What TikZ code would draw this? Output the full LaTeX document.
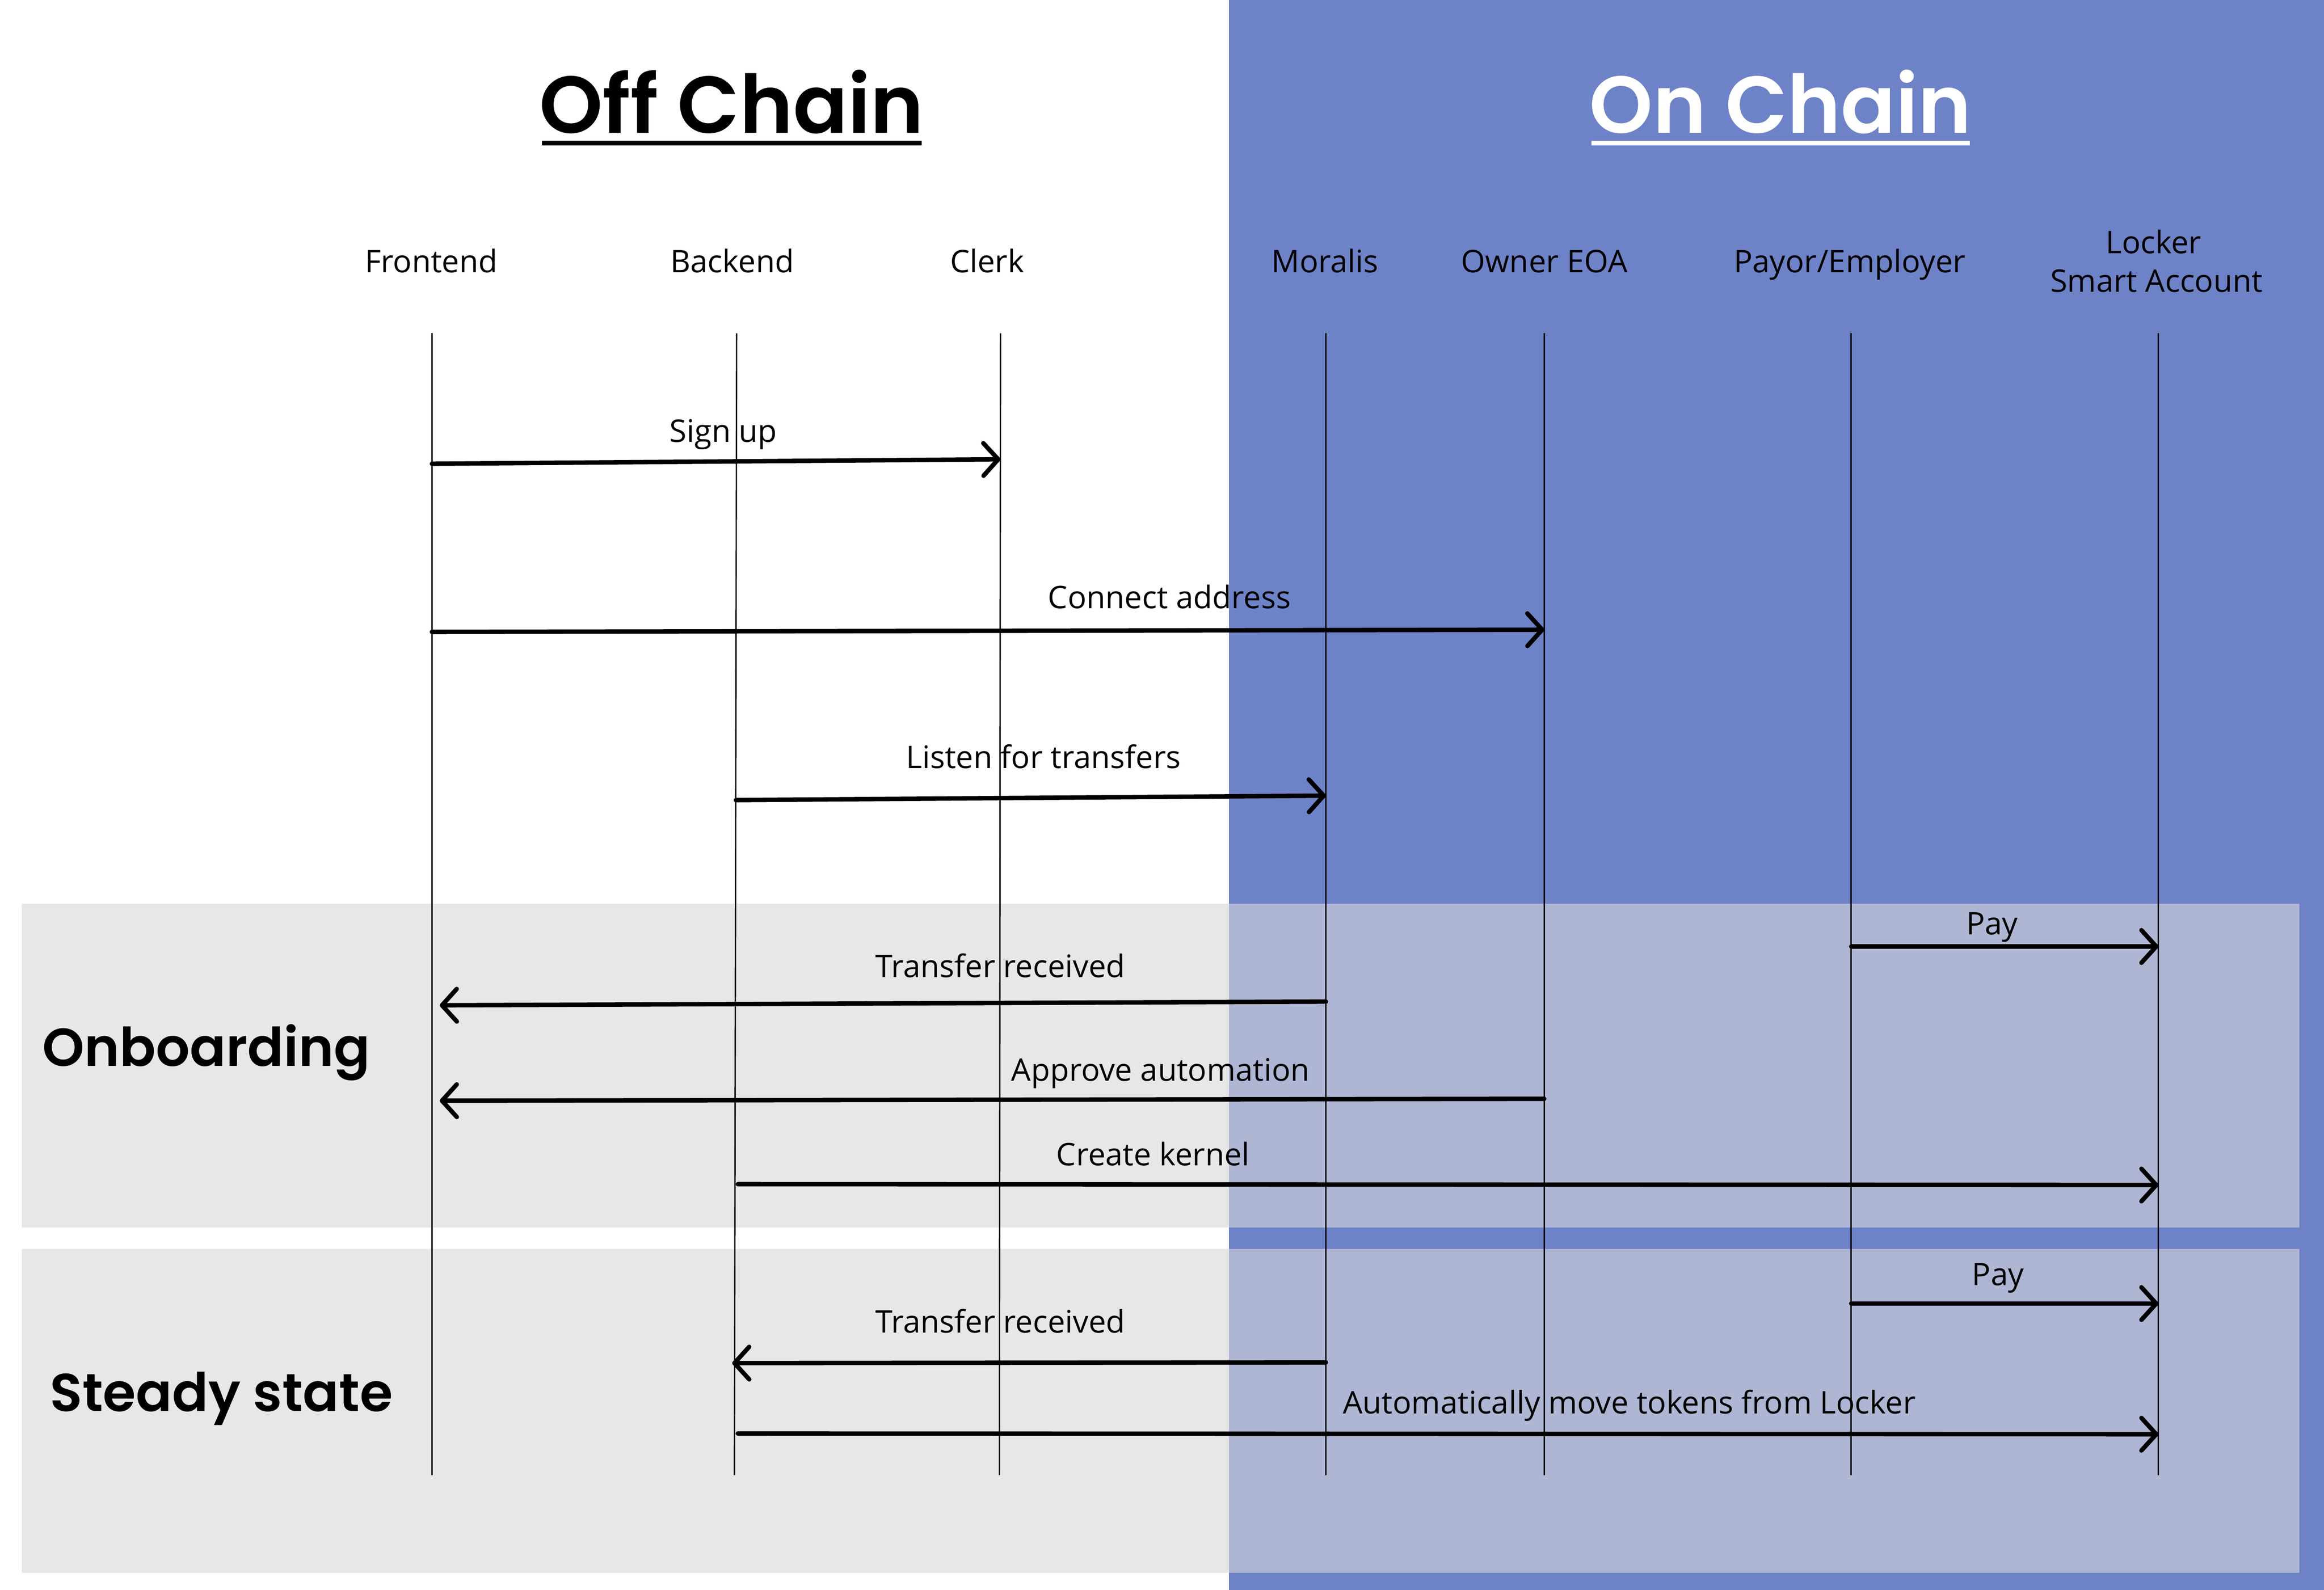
\documentclass[tikz,border=0pt]{standalone}
\usepackage{fontspec}
\setmainfont{Open Sans}
\newfontfamily\popsemi{Poppins SemiBold}
\usetikzlibrary{arrows.meta}
\definecolor{chainblue}{RGB}{110,130,200}
\definecolor{panelgray}{RGB}{231,231,231}
\definecolor{panelblue}{RGB}{175,182,211}
\begin{document}
\begin{tikzpicture}[x=1pt,y=-1pt,
  lifeline/.style={line width=0.9pt},
  msg/.style={line width=3pt,line cap=round,-{Straight Barb[length=10pt,width=22pt,line cap=round,line join=round]}},
  lbl/.style={font=\fontsize{21}{25}\selectfont,inner sep=0pt,anchor=base},
  heading/.style={font=\popsemi\fontsize{54.5}{62}\selectfont,inner sep=0pt,anchor=base},
  phase/.style={font=\popsemi\fontsize{36}{42}\selectfont,inner sep=0pt,anchor=base west},
  uline/.style={line width=3pt}]
\useasboundingbox (0,0) rectangle (1568,1073);
% backgrounds
\fill[white] (0,0) rectangle (1568,1073);
\fill[chainblue] (829,0) rectangle (1568,1073);
\fill[panelgray] (14.7,610) rectangle (829,828.6);
\fill[panelblue] (829,610) rectangle (1551.5,828.6);
\fill[panelgray] (14.7,842.8) rectangle (829,1061.4);
\fill[panelblue] (829,842.8) rectangle (1551.5,1061.4);
% headings
\node[heading] (offchain) at (493.5,90) {Off Chain};
\draw[uline] (365.6,96.6) -- (622,96.6);
\node[heading,text=white] (onchain) at (1201.3,90) {On Chain};
\draw[uline,white] (1073.7,96.6) -- (1329,96.6);
\node[phase] (onboarding) at (28.4,719.5) {Onboarding};
\node[phase] (steady) at (33.4,952.4) {Steady state};
% participants
\node[lbl] (pf) at (291,184) {Frontend};
\node[lbl] (pb) at (494,184) {Backend};
\node[lbl] (pc) at (666,184) {Clerk};
\node[lbl] (pm) at (894,184) {Moralis};
\node[lbl] (po) at (1042,184) {Owner EOA};
\node[lbl] (pp) at (1248,184) {Payor/Employer};
\node[lbl] (pl1) at (1453,171) {Locker};
\node[lbl] (pl2) at (1455,197) {Smart Account};
% lifelines
\coordinate (fT) at (291.4,225); \coordinate (fB) at (291.4,995.6);
\coordinate (bT) at (497,225);   \coordinate (bB) at (495.5,995.6);
\coordinate (cT) at (675,225);   \coordinate (cB) at (674.3,995.6);
\coordinate (mT) at (894.6,225); \coordinate (mB) at (894.6,995.6);
\coordinate (oT) at (1041.9,225);\coordinate (oB) at (1041.9,995.6);
\coordinate (eT) at (1249,225);  \coordinate (eB) at (1249,995.6);
\coordinate (lT) at (1456.3,225);\coordinate (lB) at (1456.3,995.6);
\foreach \a/\b in {fT/fB,bT/bB,cT/cB,mT/mB,oT/oB,eT/eB,lT/lB}
  \draw[lifeline] (\a) -- (\b);
% message end points
\coordinate (s1a) at (291.4,313); \coordinate (s1b) at (675,310);
\coordinate (s2a) at (291.4,426.5); \coordinate (s2b) at (1042,425);
\coordinate (s3a) at (496.5,540); \coordinate (s3b) at (894.6,537);
\coordinate (s4a) at (1249,638.8); \coordinate (s4b) at (1456.3,638.8);
\coordinate (s5a) at (894.6,676); \coordinate (s5b) at (296.7,678.5);
\coordinate (s6a) at (1041.9,741.6); \coordinate (s6b) at (296.7,742.9);
\coordinate (s7a) at (497.8,799.2); \coordinate (s7b) at (1456.3,799.8);
\coordinate (s8a) at (1249,879.8); \coordinate (s8b) at (1456.3,879.8);
\coordinate (s9a) at (894.6,919.5); \coordinate (s9b) at (494,920);
\coordinate (s10a) at (497.8,967.5); \coordinate (s10b) at (1456.3,968);
% messages
\draw[msg] (s1a) -- (s1b);
\draw[msg] (s2a) -- (s2b);
\draw[msg] (s3a) -- (s3b);
\draw[msg] (s4a) -- (s4b);
\draw[msg] (s5a) -- (s5b);
\draw[msg] (s6a) -- (s6b);
\draw[msg] (s7a) -- (s7b);
\draw[msg] (s8a) -- (s8b);
\draw[msg] (s9a) -- (s9b);
\draw[msg] (s10a) -- (s10b);
% message labels
\node[lbl] (m1) at (488,298.5) {Sign up};
\node[lbl] (m2) at (789,410.5) {Connect address};
\node[lbl] (m3) at (704,518.5) {Listen for transfers};
\node[lbl] (m4) at (1344,630.7) {Pay};
\node[lbl] (m5) at (675,659.5) {Transfer received};
\node[lbl] (m6) at (783,729.5) {Approve automation};
\node[lbl] (m7) at (778,786.5) {Create kernel};
\node[lbl] (m8) at (1348,867.5) {Pay};
\node[lbl] (m9) at (675,899.5) {Transfer received};
\node[lbl] (m10) at (1099.3,954) {Automatically move tokens from Locker};
\end{tikzpicture}
\end{document}
